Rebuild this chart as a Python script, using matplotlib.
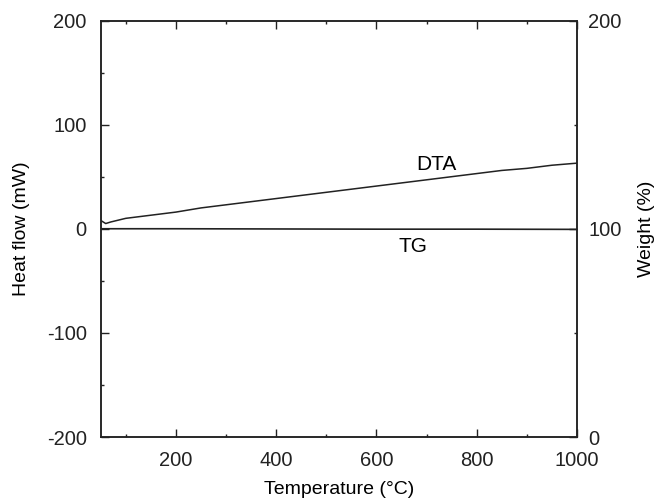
import numpy as np
import matplotlib.pyplot as plt
from matplotlib.ticker import MultipleLocator

plt.rcParams['font.family'] = ['Liberation Sans', 'DejaVu Sans']
plt.rcParams['font.size'] = 14.5
plt.rcParams['axes.unicode_minus'] = False

# DTA curve (heat flow, mW)
temp_dta = [50, 55, 60, 70, 100, 150, 200, 250, 300, 350, 400, 450, 500,
            550, 600, 650, 700, 750, 800, 850, 900, 950, 1000]
heat_flow = [8, 6.5, 5, 6.5, 10, 13, 16, 20, 23, 26, 29, 32, 35,
             38, 41, 44, 47, 50, 53, 56, 58, 61, 63]

# TG curve (weight, %)
temp_tg = [50, 200, 400, 600, 800, 1000]
weight = [100, 100, 99.9, 99.8, 99.8, 99.7]

fig = plt.figure(figsize=(6.57, 4.98), dpi=100)
ax = fig.add_axes([100.7 / 657, 1 - 437 / 498, (577 - 100.7) / 657, (437 - 20.5) / 498])
ax2 = ax.twinx()

col = '#222222'
ax.plot(temp_dta, heat_flow, color=col, lw=1.1)
ax2.plot(temp_tg, weight, color=col, lw=1.2)

ax.set_xlim(50, 1000)
ax.set_ylim(-200, 200)
ax2.set_ylim(0, 200)

ax.xaxis.set_major_locator(MultipleLocator(200))
ax.xaxis.set_minor_locator(MultipleLocator(100))
ax.yaxis.set_major_locator(MultipleLocator(100))
ax.yaxis.set_minor_locator(MultipleLocator(50))
ax2.yaxis.set_major_locator(MultipleLocator(100))
ax2.yaxis.set_minor_locator(MultipleLocator(50))

ax.tick_params(which='both', direction='in', top=True, colors=col, labelcolor='#222222')
ax.tick_params(which='major', length=6, width=1)
ax.tick_params(which='minor', length=2.5, width=1)
ax.tick_params(axis='x', which='major', pad=10)
ax.tick_params(axis='y', which='major', pad=10)
ax2.tick_params(which='both', direction='in', colors=col)
ax2.tick_params(which='major', length=6, width=1, pad=8)
ax2.tick_params(which='minor', length=2.5, width=1)

for a in (ax, ax2):
    for s in a.spines.values():
        s.set_color(col)
        s.set_linewidth(1.1)

ax.set_xlabel('Temperature (\u00b0C)', labelpad=8, fontsize=14)
ax.set_ylabel('Heat flow (mW)', labelpad=12, fontsize=14)
ax2.set_ylabel('Weight (%)', labelpad=12, fontsize=14)

ax.text(720, 62, 'DTA', ha='center', va='center', fontsize=15)
ax.text(672, -17, 'TG', ha='center', va='center', fontsize=15)

fig.savefig('out.png', dpi=100)
